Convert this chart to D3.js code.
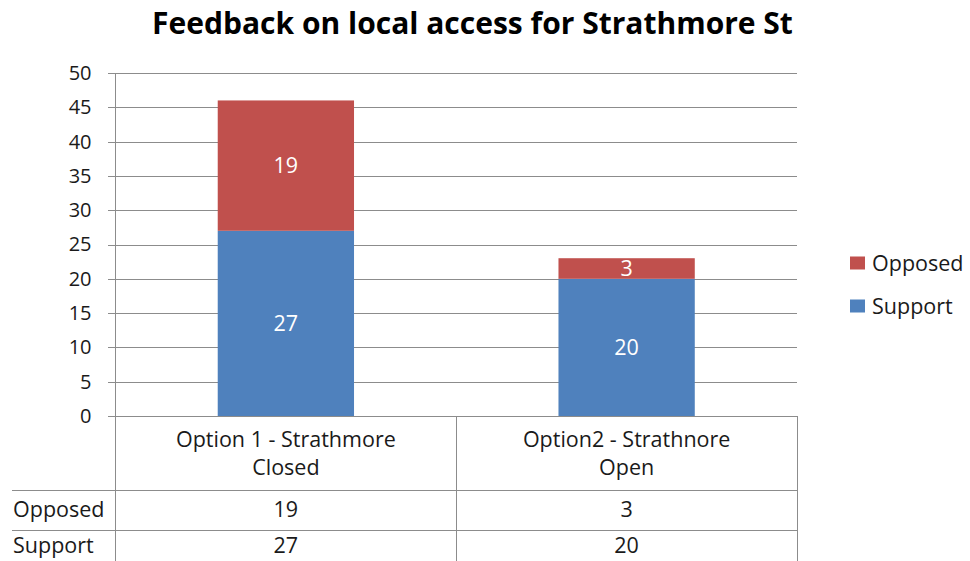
<!DOCTYPE html>
<html>
<head>
<meta charset="utf-8">
<script src="https://cdn.jsdelivr.net/npm/d3@7"></script>
<style>
  html, body { margin: 0; padding: 0; background: #fff; }
  svg { display: block; font-family: "Open Sans", "Noto Sans", "Liberation Sans", sans-serif; }
</style>
</head>
<body>
<svg id="chart" width="970" height="561"></svg>
<script>
// Survey responses per option
const categories = ["Option 1 - Strathmore\nClosed", "Option2 - Strathnore\nOpen"];
const seriesNames = ["Support", "Opposed"];
const support = [27, 20];
const opposed = [19, 3];
const yTicks = [0, 5, 10, 15, 20, 25, 30, 35, 40, 45, 50];
const colors = { Support: "#4F81BD", Opposed: "#C0504D" };

const rows = categories.map((c, i) => ({ cat: c, Support: support[i], Opposed: opposed[i] }));

const svg = d3.select("#chart");
const W = 970, H = 561;
const plot = { left: 115.5, right: 797, top: 73, bottom: 416 };
const gridColor = "#8c8c8c";
const textColor = "#1a1a1a";
const labelSize = 21.5;

// Title
svg.append("text")
  .attr("x", 472.5).attr("y", 34)
  .attr("text-anchor", "middle")
  .attr("font-size", 30).attr("font-weight", "bold")
  .attr("fill", "#000")
  .text("Feedback on local access for Strathmore St");

const x = d3.scaleBand().domain(categories)
  .range([plot.left, plot.right]).paddingInner(0.6).paddingOuter(0.3);
const xCol = d3.scaleBand().domain(categories).range([plot.left, plot.right]).padding(0);
const y = d3.scaleLinear().domain([0, 50]).range([plot.bottom, plot.top]);

// Y axis with gridlines
const yAxis = svg.append("g")
  .attr("transform", `translate(${plot.left},0)`)
  .call(d3.axisLeft(y).tickValues(yTicks).tickSize(-(plot.right - plot.left)).tickPadding(24))
  .call(g => g.select(".domain").remove());
yAxis.selectAll(".tick line")
  .attr("x1", -8)
  .attr("stroke", gridColor).attr("stroke-width", 1)
  .attr("shape-rendering", "crispEdges");
yAxis.selectAll(".tick text")
  .attr("font-size", 20).attr("fill", textColor)
  .attr("font-family", "Open Sans, Noto Sans, sans-serif");

// Stacked bars
const stack = d3.stack().keys(seriesNames)(rows);
const layers = svg.append("g").selectAll("g").data(stack).join("g")
  .attr("fill", d => colors[d.key]);
layers.selectAll("rect").data(d => d).join("rect")
  .attr("x", d => x(d.data.cat))
  .attr("width", x.bandwidth())
  .attr("y", d => y(d[1]))
  .attr("height", d => y(d[0]) - y(d[1]));

// Segment value labels
layers.selectAll("text").data(d => d.map(v => ({ v, key: d.key }))).join("text")
  .attr("x", d => x(d.v.data.cat) + x.bandwidth() / 2)
  .attr("y", d => y((d.v[0] + d.v[1]) / 2))
  .attr("dy", "0.35em")
  .attr("text-anchor", "middle")
  .attr("font-size", labelSize)
  .attr("fill", "#fff")
  .text(d => d.v.data[d.key]);

// Vertical axis line, continued through the table
svg.append("line")
  .attr("x1", plot.left).attr("x2", plot.left)
  .attr("y1", plot.top).attr("y2", H)
  .attr("stroke", gridColor).attr("shape-rendering", "crispEdges");

// Data table below the chart
const tableRows = [
  { name: "Opposed", values: opposed, mid: 509 },
  { name: "Support", values: support, mid: 545.5 }
];
const table = svg.append("g");
[490.5, 530.5].forEach(yy => {
  table.append("line")
    .attr("x1", 12).attr("x2", plot.right)
    .attr("y1", yy).attr("y2", yy)
    .attr("stroke", gridColor).attr("shape-rendering", "crispEdges");
});
categories.forEach(c => {
  const xr = xCol(c) + xCol.bandwidth();
  table.append("line")
    .attr("x1", xr).attr("x2", xr)
    .attr("y1", plot.bottom).attr("y2", H)
    .attr("stroke", gridColor).attr("shape-rendering", "crispEdges");
});

// Category header cells
categories.forEach(c => {
  const lines = c.split("\n");
  const t = table.append("text")
    .attr("text-anchor", "middle")
    .attr("font-size", labelSize).attr("fill", textColor);
  lines.forEach((ln, i) => {
    t.append("tspan")
      .attr("x", xCol(c) + xCol.bandwidth() / 2)
      .attr("y", 447 + i * 28)
      .text(ln);
  });
});

// Value rows
tableRows.forEach(r => {
  table.append("text")
    .attr("x", 13).attr("y", r.mid)
    .attr("dy", "0.35em")
    .attr("font-size", labelSize).attr("fill", textColor)
    .text(r.name);
  r.values.forEach((v, i) => {
    table.append("text")
      .attr("x", xCol(categories[i]) + xCol.bandwidth() / 2)
      .attr("y", r.mid)
      .attr("dy", "0.35em")
      .attr("text-anchor", "middle")
      .attr("font-size", labelSize).attr("fill", textColor)
      .text(v);
  });
});

// Legend
const legendItems = ["Opposed", "Support"];
const legend = svg.append("g");
legendItems.forEach((k, i) => {
  const cy = 263 + i * 43;
  legend.append("rect")
    .attr("x", 850).attr("y", cy - 6.5)
    .attr("width", 15).attr("height", 13)
    .attr("fill", colors[k]);
  legend.append("text")
    .attr("x", 872).attr("y", cy)
    .attr("dy", "0.35em")
    .attr("font-size", labelSize).attr("fill", textColor)
    .text(k);
});
</script>
</body>
</html>
